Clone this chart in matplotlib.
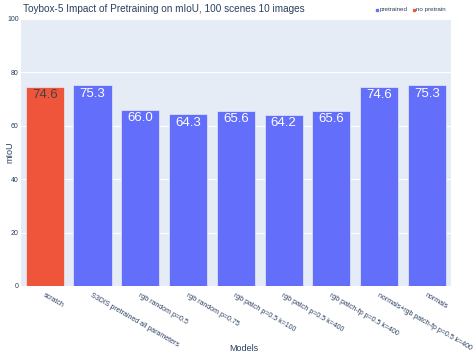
import matplotlib
matplotlib.use("Agg")
import matplotlib.pyplot as plt
import numpy as np

models = ["scratch", "S3DIS pretrained all parameters", "rgb random p=0.5",
          "rgb random p=0.75", "rgb patch p=0.5 k=100", "rgb patch p=0.5 k=400",
          "rgb patch-fp p=0.5 k=400", "normals+rgb patch-fp p=0.5 k=400", "normals"]
miou = [74.6, 75.3, 66.0, 64.3, 65.6, 64.2, 65.6, 74.6, 75.3]
pretrained = [False, True, True, True, True, True, True, True, True]

blue = "#636EFA"
red = "#EF553B"
txt = "#2a3f5f"
plt.rcParams["font.family"] = ["Liberation Sans", "DejaVu Sans"]

fig = plt.figure(figsize=(4.76, 3.57), dpi=100)
ax = fig.add_axes([0.044, 0.199, 0.903, 0.748])
ax.set_facecolor("#E5ECF6")

x = np.arange(len(models))
colors = [blue if p else red for p in pretrained]
bars = ax.bar(x, miou, width=0.8, color=colors, edgecolor="#E5ECF6", linewidth=0.5, zorder=3)

for b, v, p in zip(bars, miou, pretrained):
    ax.text(b.get_x() + b.get_width() / 2, v - 1.0, f"{v:.1f}", ha="center", va="top",
            fontsize=9.5, color="white" if p else "#444444", zorder=4)

ax.set_xlim(-0.5, len(models) - 0.5)
ax.set_ylim(0, 100)
ax.set_yticks([0, 20, 40, 60, 80, 100])
ax.grid(axis="y", color="white", linewidth=0.8, zorder=0)
ax.set_axisbelow(True)
for s in ax.spines.values():
    s.set_visible(False)
ax.tick_params(length=0, labelsize=5, colors=txt)
ax.tick_params(axis="y", pad=1.5)
ax.tick_params(axis="x", pad=4)
ax.set_xticks(x)
ax.set_xticklabels(models, rotation=-30, ha="left", rotation_mode="anchor")

ax.set_ylabel("mIoU", fontsize=6.5, color=txt)
ax.yaxis.set_label_coords(-0.016, 0.5)
fig.text(0.513, 0.012, "Models", fontsize=6.5, color=txt, ha="center", va="bottom")
fig.text(0.048, 0.975, "Toybox-5 Impact of Pretraining on mIoU, 100 scenes 10 images",
         fontsize=7.2, color=txt, ha="left", va="center")

# legend
ly = 0.972
fig.lines.append(plt.Line2D([0.7925], [ly], marker="s", markersize=1.4, color=blue,
                            transform=fig.transFigure))
fig.text(0.797, ly, "pretrained", fontsize=4.5, color=txt, ha="left", va="center")
fig.lines.append(plt.Line2D([0.8705], [ly], marker="s", markersize=1.4, color=red,
                            transform=fig.transFigure))
fig.text(0.875, ly, "no pretrain", fontsize=4.5, color=txt, ha="left", va="center")

fig.savefig("out.png", dpi=100, facecolor="white")
